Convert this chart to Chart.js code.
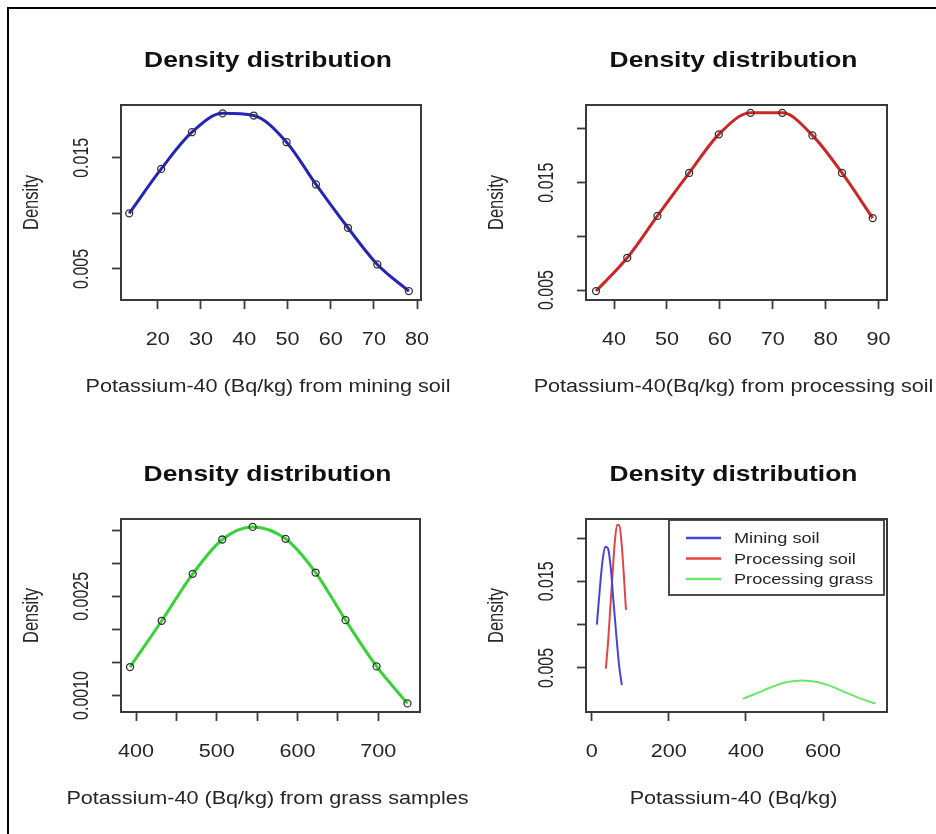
<!DOCTYPE html>
<html>
<head>
<meta charset="utf-8">
<script src="https://cdn.jsdelivr.net/npm/chart.js@4.4.1/dist/chart.umd.min.js"></script>
<style>
  html, body { margin: 0; padding: 0; background: #fff; }
  #page { position: relative; width: 936px; height: 834px; overflow: hidden; background: #fff; }
  #frame { position: absolute; left: 7px; top: 7px; width: 960px; height: 860px; border-left: 2px solid #000; border-top: 2px solid #000; }
  canvas { position: absolute; }
</style>
</head>
<body>
<div id="page">
  <div id="frame"></div>
  <canvas id="c1" width="468" height="417" style="left:0;top:0"></canvas>
  <canvas id="c2" width="468" height="417" style="left:468px;top:0"></canvas>
  <canvas id="c3" width="468" height="417" style="left:0;top:417px"></canvas>
  <canvas id="c4" width="468" height="417" style="left:468px;top:417px"></canvas>
</div>
<script>
// density estimates
const miningX = [13.4, 20.8, 27.9, 35.0, 42.2, 49.8, 56.6, 64.0, 70.8, 78.1];
const miningY = [0.0100, 0.0140, 0.0173, 0.0190, 0.0188, 0.0164, 0.0126, 0.0087, 0.0054, 0.0030];
const processingX = [36.6, 42.5, 48.2, 54.2, 59.8, 65.8, 71.8, 77.5, 83.1, 88.9];
const processingY = [0.0049, 0.0080, 0.0119, 0.0159, 0.0195, 0.0215, 0.0215, 0.0194, 0.0159, 0.0117];
const grassX = [392.6, 431.8, 470.2, 506.8, 544.4, 585.2, 622.3, 659.4, 697.8, 736.1];
const grassY = [0.00143, 0.00213, 0.00284, 0.00336, 0.00355, 0.00337, 0.00286, 0.00214, 0.00144, 0.00088];

const seriesNames = ['Mining soil', 'Processing soil', 'Processing grass'];
const titleText = 'Density distribution';
const yTitle = 'Density';
const xTitles = [
  'Potassium-40 (Bq/kg) from mining soil',
  'Potassium-40(Bq/kg) from processing soil',
  'Potassium-40 (Bq/kg) from grass samples',
  'Potassium-40 (Bq/kg)'
];

// ticks (empty label = tick without a label, as in the original)
const miningXTicks = [20, 30, 40, 50, 60, 70, 80];
const miningXLabels = ['20', '30', '40', '50', '60', '70', '80'];
const miningYTicks = [0.005, 0.010, 0.015];
const miningYLabels = ['0.005', '', '0.015'];
const processingXTicks = [40, 50, 60, 70, 80, 90];
const processingXLabels = ['40', '50', '60', '70', '80', '90'];
const processingYTicks = [0.005, 0.010, 0.015, 0.020];
const processingYLabels = ['0.005', '', '0.015', ''];
const grassXTicks = [400, 450, 500, 550, 600, 650, 700];
const grassXLabels = ['400', '', '500', '', '600', '', '700'];
const grassYTicks = [0.0010, 0.0015, 0.0020, 0.0025, 0.0030, 0.0035];
const grassYLabels = ['0.0010', '', '', '0.0025', '', ''];
const allXTicks = [0, 200, 400, 600];
const allXLabels = ['0', '200', '400', '600'];
const allYTicks = [0.005, 0.010, 0.015, 0.020];
const allYLabels = ['0.005', '', '0.015', ''];

const FONT = "'Liberation Sans', Arial, sans-serif";

function pts(xs, ys) { return xs.map((x, i) => ({ x: x, y: ys[i] })); }

// text is stretched sideways a little, like the scanned figure
function txt(ctx, s, x, y, font, sx, align, rot, color) {
  ctx.save();
  ctx.translate(x, y);
  ctx.scale(sx, 1);
  if (rot) ctx.rotate(-Math.PI / 2);
  ctx.font = font;
  ctx.fillStyle = color;
  ctx.textAlign = align;
  ctx.textBaseline = 'alphabetic';
  ctx.fillText(s, 0, 0);
  ctx.restore();
}

const rText = {
  id: 'rtext',
  afterDraw(chart, args, o) {
    const ctx = chart.ctx, a = chart.chartArea;
    const xs = chart.scales.x, ys = chart.scales.y;
    const cx = (a.left + a.right) / 2 - 3;
    ctx.save();
    ctx.strokeStyle = '#3a3a3a';
    ctx.lineWidth = 2;
    ctx.strokeRect(a.left, a.top, a.right - a.left, a.bottom - a.top);
    txt(ctx, o.title, cx, a.top - 38, 'bold 22px ' + FONT, 1.2, 'center', false, '#111');
    txt(ctx, o.xLabel, cx, a.bottom + 92, '18px ' + FONT, 1.2, 'center', false, '#262626');
    txt(ctx, o.yLabel, a.left - 83, (a.top + a.bottom) / 2, '16.5px ' + FONT, 1.3, 'center', true, '#262626');
    o.xTicks.forEach((v, i) => {
      if (o.xTickLabels[i]) txt(ctx, o.xTickLabels[i], xs.getPixelForValue(v), a.bottom + 44.5, '18px ' + FONT, 1.2, 'center', false, '#262626');
    });
    o.yTicks.forEach((v, i) => {
      if (o.yTickLabels[i]) txt(ctx, o.yTickLabels[i], a.left - 33, ys.getPixelForValue(v), '16px ' + FONT, 1.35, 'center', true, '#262626');
    });
    if (o.legend) {
      const bw = 215, bh = 75;
      const bx = a.right - 3 - bw, by = a.top + 1;
      ctx.fillStyle = '#fff';
      ctx.fillRect(bx, by, bw, bh);
      ctx.strokeStyle = '#3a3a3a';
      ctx.lineWidth = 1.8;
      ctx.strokeRect(bx, by, bw, bh);
      chart.data.datasets.forEach((d, i) => {
        const ly = by + 18 + i * 20.5;
        ctx.strokeStyle = d.borderColor;
        ctx.lineWidth = 2.5;
        ctx.beginPath();
        ctx.moveTo(bx + 17, ly);
        ctx.lineTo(bx + 52, ly);
        ctx.stroke();
        txt(ctx, d.label, bx + 65, ly + 5, '14.5px ' + FONT, 1.25, 'left', false, '#262626');
      });
    }
    ctx.restore();
  }
};

function panel(id, datasets, xr, yr, xTicks, xTickLabels, yTicks, yTickLabels, pad, xLabel, legend) {
  const tickGrid = { display: true, drawOnChartArea: false, drawTicks: true, tickLength: 9, tickColor: '#3a3a3a', tickWidth: 1.8 };
  return new Chart(document.getElementById(id), {
    type: 'line',
    data: { datasets: datasets },
    plugins: [rText],
    options: {
      responsive: false,
      animation: false,
      devicePixelRatio: 1,
      events: [],
      layout: { padding: pad },
      scales: {
        x: {
          type: 'linear', min: xr[0], max: xr[1],
          grid: tickGrid, border: { display: false },
          ticks: { display: false },
          afterBuildTicks: s => { s.ticks = xTicks.map(v => ({ value: v })); },
          afterFit: s => { s.height = 0; }
        },
        y: {
          type: 'linear', min: yr[0], max: yr[1],
          grid: tickGrid, border: { display: false },
          ticks: { display: false },
          afterBuildTicks: s => { s.ticks = yTicks.map(v => ({ value: v })); },
          afterFit: s => { s.width = 0; }
        }
      },
      plugins: {
        legend: { display: false },
        tooltip: { enabled: false },
        title: { display: false },
        rtext: {
          title: titleText, xLabel: xLabel, yLabel: yTitle, legend: legend,
          xTicks: xTicks, xTickLabels: xTickLabels, yTicks: yTicks, yTickLabels: yTickLabels
        }
      }
    }
  });
}

function marked(label, xs, ys, color) {
  return {
    label: label, data: pts(xs, ys), borderColor: color, borderWidth: 3, cubicInterpolationMode: 'monotone',
    pointRadius: 3.5, pointBorderColor: '#333', pointBackgroundColor: 'rgba(0,0,0,0)', pointBorderWidth: 1.3
  };
}
function plain(label, xs, ys, color) {
  return { label: label, data: pts(xs, ys), borderColor: color, borderWidth: 2, cubicInterpolationMode: 'monotone', pointRadius: 0 };
}

panel('c1', [marked(seriesNames[0], miningX, miningY, '#2424b8')],
  [11.5, 80.9], [0.0022, 0.01975], miningXTicks, miningXLabels, miningYTicks, miningYLabels,
  { left: 121, right: 47, top: 105, bottom: 117 }, xTitles[0], false);

panel('c2', [marked(seriesNames[1], processingX, processingY, '#cc2626')],
  [34.7, 91.6], [0.00407, 0.02223], processingXTicks, processingXLabels, processingYTicks, processingYLabels,
  { left: 118, right: 49, top: 105, bottom: 117 }, xTitles[1], false);

panel('c3', [marked(seriesNames[2], grassX, grassY, '#36d236')],
  [381.4, 751.6], [0.00075, 0.00367], grassXTicks, grassXLabels, grassYTicks, grassYLabels,
  { left: 121, right: 48, top: 102, bottom: 122 }, xTitles[2], false);

panel('c4', [
    plain(seriesNames[0], miningX, miningY, '#4444dd'),
    plain(seriesNames[1], processingX, processingY, '#e04646'),
    plain(seriesNames[2], grassX, grassY, '#6ae66a')
  ],
  [-14.8, 766], [-0.0001, 0.0222], allXTicks, allXLabels, allYTicks, allYLabels,
  { left: 118, right: 49, top: 102, bottom: 122 }, xTitles[3], true);
</script>
</body>
</html>
